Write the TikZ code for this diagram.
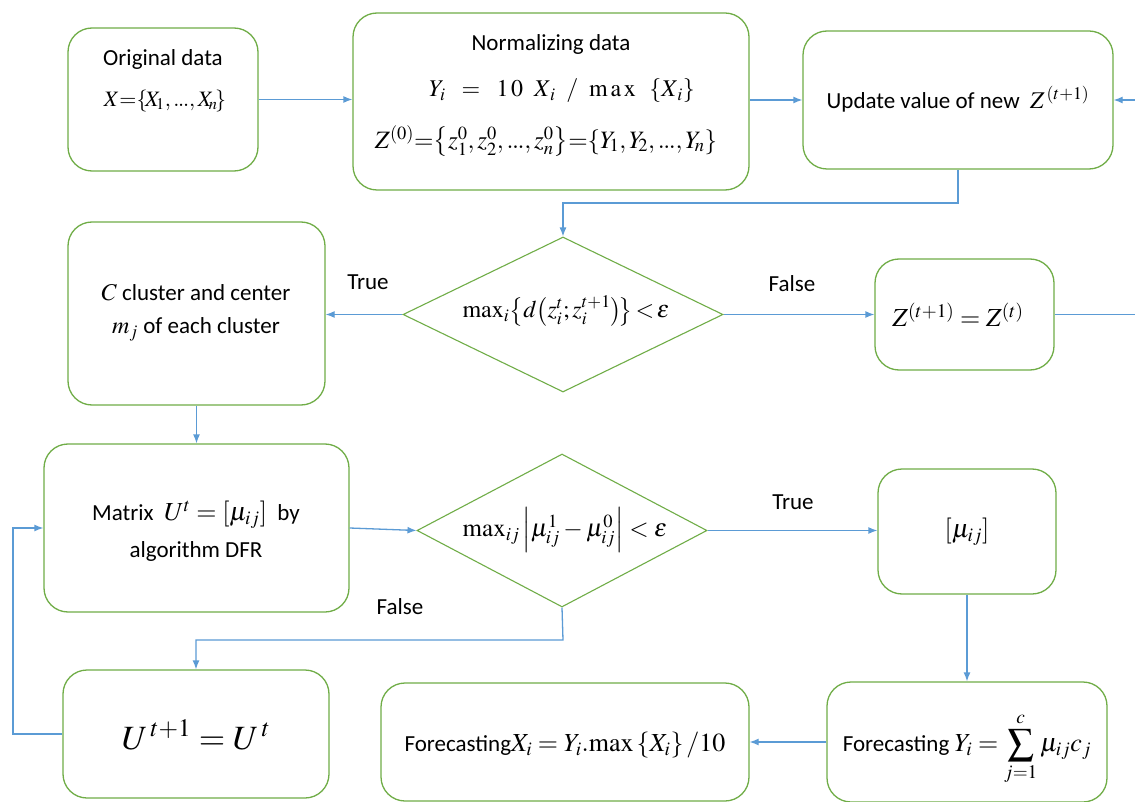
\documentclass[tikz,border=0pt]{standalone}
\usepackage[no-math]{fontspec}
\usepackage{mathptmx}
\setmainfont{Carlito}
\usetikzlibrary{shapes.geometric,arrows.meta}
\definecolor{boxgreen}{RGB}{112,173,71}
\definecolor{arrblue}{RGB}{91,155,213}
\tikzset{
  box/.style={draw=boxgreen, line width=1.3pt, rounded corners=24pt, inner sep=0pt},
  dia/.style={draw=boxgreen, line width=1.1pt, diamond, inner sep=0pt},
  arr/.style={draw=arrblue, line width=1.3pt, -{Latex[length=9pt,width=7pt]}},
  txt/.style={font=\fontsize{23}{27}\selectfont, align=center, inner sep=0pt},
  mth/.style={font=\fontsize{24}{28}\selectfont, align=center, inner sep=0pt},
}
\newcommand{\tdots}{{.}\mkern-1mu{.}\mkern-1mu{.}}
\begin{document}
\begin{tikzpicture}[x=1pt,y=-1pt]
\useasboundingbox (0,0) rectangle (1135,802);
\clip (0,0) rectangle (1135,802);
\fill[white] (0,0) rectangle (1135,802);
% boxes
\node[box, minimum width=190pt, minimum height=143pt] (orig) at (163,99.5) {};
\node[box, minimum width=396pt, minimum height=177pt] (norm) at (551,101.5) {};
\node[box, minimum width=310pt, minimum height=138pt] (upd) at (958,100) {};
\node[box, minimum width=257pt, minimum height=183pt] (clus) at (196.5,313.5) {};
\node[box, minimum width=179pt, minimum height=111pt] (zbox) at (964.5,314.5) {};
\node[box, minimum width=305pt, minimum height=168pt] (mat) at (196.5,528) {};
\node[box, minimum width=178pt, minimum height=125pt] (mu) at (967,531.5) {};
\node[box, minimum width=266pt, minimum height=128pt] (ubox) at (196,734) {};
\node[box, minimum width=368pt, minimum height=118pt] (fx) at (565,742) {};
\node[box, minimum width=280pt, minimum height=120pt] (fy) at (967,742) {};
\node[dia, minimum width=320pt, minimum height=155pt] (d1) at (563,314.5) {};
\node[dia, minimum width=290pt, minimum height=153pt] (d2) at (562,530.5) {};
% texts
\node[txt] (orig-t1) at (163,59) {Original data};
\node[mth, font=\fontsize{22}{26}\selectfont] (orig-t2) at (165,101) {$X{=}\!\left\{\!X_{\!1},\tdots,X_{\!n}\!\right\}$};
\node[txt] (norm-t1) at (551,44) {Normalizing data};
\node[mth, font=\fontsize{24}{28}\selectfont] (norm-t2) at (562,91) {$Y_i\ \ =\ \ 1\,0\ \ X_{\,i}\ \ /\ \ \mathrm{m\,a\,x}\ \ \left\{X_{\,i}\right\}$};
\node[mth, font=\fontsize{25}{29}\selectfont] (norm-t3) at (546,141) {$Z^{(0)}{=}\!\left\{z_1^0,z_2^0,\tdots,z_n^0\right\}\!{=}\!\left\{Y_{\!1},Y_{\!2},\tdots,Y_{\!n}\right\}$};
\node[txt] (upd-t) at (958,99) {Update value of new \ {\fontsize{24}{28}\selectfont$Z^{\,(t+1)}$}};
\node[txt] (clus-t) at (196,313) {{\fontsize{24}{28}\selectfont$C$} cluster and center\\[6pt] {\fontsize{24}{28}\selectfont$m_j$} of each cluster};
\node[mth, font=\fontsize{24}{28}\selectfont] (d1-t) at (566,311) {$\max\nolimits_i\!\left\{d\!\left(z_i^t;z_i^{t+1}\right)\!\right\}\!<\!\varepsilon$};
\node[mth, font=\fontsize{26}{30}\selectfont] (zbox-t) at (958,315) {$Z^{(t+1)}=Z^{(t)}$};
\node[txt] (mat-t) at (196,531) {Matrix \ {\fontsize{26}{30}\selectfont$U^t=\left[\mu_{ij}\right]$} \ by\\[10pt] algorithm DFR};
\node[mth, font=\fontsize{25}{29}\selectfont] (d2-t) at (565,530) {$\max\nolimits_{ij}\left|\mu_{ij}^1-\mu_{ij}^0\right|<\varepsilon$};
\node[mth, font=\fontsize{26}{30}\selectfont] (mu-t) at (967,532) {$\left[\mu_{ij}\right]$};
\node[mth, font=\fontsize{34}{38}\selectfont] (ubox-t) at (196,735) {$U^{\,t+1}=U^{\,t}$};
\node[txt] (fx-t) at (565,745) {Forecasting{\fontsize{26}{30}\selectfont$X_i=Y_i.\mathrm{max}\left\{X_i\right\}/10$}};
\node[txt] (fy-t) at (967,749) {Forecasting {\fontsize{26}{30}\selectfont$Y_i=\displaystyle\sum_{j=1}^{c}\mu_{ij}c_j$}};
% labels
\node[txt] (lt1) at (368,282) {True};
\node[txt] (lf1) at (792,284) {False};
\node[txt] (lt2) at (793,502) {True};
\node[txt] (lf2) at (400,607) {False};
% connectors
\draw[arr] (orig.east) -- (orig.east -| norm.west);
\draw[arr] (norm.east |- upd.west) -- (upd.west);
\coordinate (fbr) at (1150,314.5);
\draw[arr] (zbox.east) -- (fbr) |- (upd.east);
\coordinate (ud) at (958,203);
\draw[arr] (upd.south) -- (ud) -| (d1.north);
\draw[arr] (d1.west) -- (d1.west -| clus.east);
\draw[arr] (d1.east) -- (d1.east -| zbox.west);
\draw[arr] (clus.south) -- (mat.north);
\draw[arr] (mat.east) -- (d2.west);
\draw[arr] (d2.east) -- (d2.east -| mu.west);
\draw[arr] (mu.south) -- (mu.south |- fy.north);
\draw[arr] (fy.west) -- (fy.west -| fx.east);
\coordinate (dd) at (563,640);
\draw[arr] (d2.south) -- (dd) -| (ubox.north);
\coordinate (lb) at (13,734);
\draw[arr] (ubox.west) -- (lb) |- (mat.west);
\end{tikzpicture}
\end{document}
